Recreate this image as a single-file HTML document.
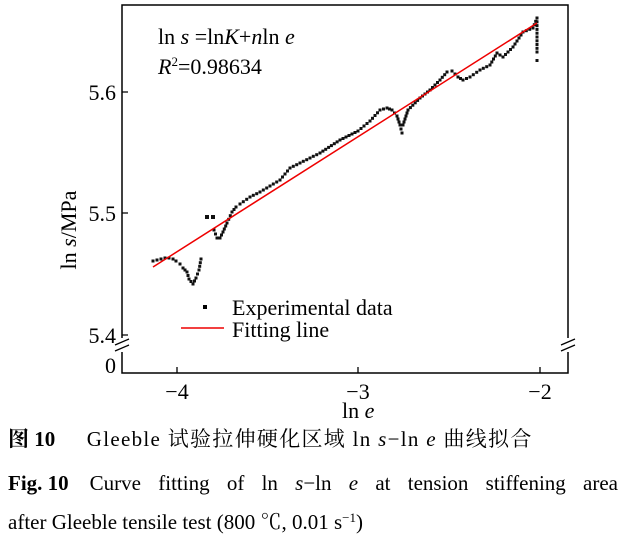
<!DOCTYPE html>
<html><head><meta charset="utf-8"><style>
body{margin:0;background:#fff;width:628px;height:545px;overflow:hidden;position:relative}
svg{display:block;position:absolute;left:0;top:0}
text{font-family:"Liberation Serif","Noto Serif CJK SC",serif;fill:#000}
.cap{position:absolute;left:8px;width:610px;font-family:"Liberation Serif","Noto Serif CJK SC",serif;font-size:21px;white-space:nowrap;line-height:24px}
.j{text-align:justify;text-align-last:justify;white-space:normal}
sup{font-size:13px;vertical-align:7px;line-height:0}
</style></head><body>
<svg id="s" width="628" height="545" viewBox="0 0 628 545">
<rect x="122" y="5" width="446" height="368" fill="none" stroke="#000" stroke-width="1.5"/>
<rect x="116" y="338" width="12" height="14" fill="#fff"/>
<rect x="562" y="338" width="12" height="14" fill="#fff"/>
<path d="M115,345 L129,339 M115,351 L129,345 M561,345 L575,339 M561,351 L575,345" stroke="#000" stroke-width="1.3"/>
<path d="M177,373 V367 M358,373 V367 M540,373 V367 M122,92 H128 M122,213 H128 M122,335 H128" stroke="#000" stroke-width="1.3"/>
<g font-size="22">
<text x="116" y="100" text-anchor="end">5.6</text>
<text x="116" y="221" text-anchor="end">5.5</text>
<text x="116" y="343" text-anchor="end">5.4</text>
<text x="116" y="373" text-anchor="end">0</text>
<text x="177" y="399" text-anchor="middle">−4</text>
<text x="358" y="399" text-anchor="middle">−3</text>
<text x="540" y="399" text-anchor="middle">−2</text>
<text x="342" y="418">ln <tspan font-style="italic">e</tspan></text>
<text transform="translate(76,230) rotate(-90)" text-anchor="middle">ln <tspan font-style="italic">s</tspan>/MPa</text>
<text x="158" y="44">ln <tspan font-style="italic">s</tspan> =ln<tspan font-style="italic">K</tspan>+<tspan font-style="italic">n</tspan>ln <tspan font-style="italic">e</tspan></text>
<text x="158" y="74"><tspan font-style="italic">R</tspan><tspan font-size="13" dy="-8">2</tspan><tspan dy="8">=0.98634</tspan></text>
<text x="232" y="315">Experimental data</text>
<text x="232" y="337">Fitting line</text>
</g>
<rect x="203" y="305" width="4" height="4" fill="#000"/>
<line x1="181" y1="328" x2="224" y2="328" stroke="#e00" stroke-width="1.5"/>
<g id="pts" fill="#111"></g>
<line x1="153" y1="267" x2="537" y2="23" stroke="#e00" stroke-width="1.5"/>
</svg>
<div class="cap" style="top:427px"><b>图 10</b>&nbsp;&nbsp;&nbsp;&nbsp;&nbsp;&nbsp;<span style="letter-spacing:1.3px">Gleeble 试验拉伸硬化区域 ln <i>s</i>−ln <i>e</i> 曲线拟合</span></div>
<div class="cap j" style="top:471px"><span style="display:inline-block"><b>Fig. 10</b>&nbsp;&nbsp;&nbsp;&nbsp;Curve</span> fitting of ln <i>s</i>−ln <i>e</i> at tension stiffening area</div>
<div class="cap" style="top:510px">after Gleeble tensile test (800 ℃, 0.01 s<sup>−1</sup>)</div>
<script>
var segs=[
[[153,261],[157,260],[161,259],[165,258],[169,258],[173,259],[176,261],[180,264],[183,268],[187,272],[189,279],[193,284],[196,278],[199,270],[201,259]],
[[207,217],[213,217]],
[[214,230],[217,238],[220,238],[223,232],[227,223],[232,212],[236,207],[240,204],[250,197],[260,192],[270,186],[280,180],[290,168],[300,163],[320,153],[340,140],[358,131],[370,121],[380,110],[387,108],[392,110],[397,116],[400,125],[402,133]],
[[403,125],[408,110],[420,98],[430,90],[440,80],[447,72],[452,71],[458,77],[463,80],[470,77],[480,70],[490,65],[497,53],[503,57],[513,47],[523,32],[533,28],[537,18]],
[[537,18],[537,37],[537,52]]
];
var g=document.getElementById('pts'),h='';
segs.forEach(function(s){
 if(s.length==2&&s[0][0]==207){s.forEach(function(p){h+='<rect x="'+(p[0]-2)+'" y="'+(p[1]-2)+'" width="4" height="4"/>';});return;}
 for(var i=0;i<s.length-1;i++){var a=s[i],b=s[i+1],d=Math.hypot(b[0]-a[0],b[1]-a[1]),n=Math.max(1,Math.round(d/3.5));
  for(var k=0;k<n;k++){var t=k/n,x=a[0]+(b[0]-a[0])*t,y=a[1]+(b[1]-a[1])*t;h+='<rect x="'+(x-1.5).toFixed(1)+'" y="'+(y-1.5).toFixed(1)+'" width="3" height="3"/>';}}
 var l=s[s.length-1];h+='<rect x="'+(l[0]-1.5)+'" y="'+(l[1]-1.5)+'" width="3" height="3"/>';
});
h+='<rect x="535.5" y="59" width="3" height="3"/>';
g.innerHTML=h;
</script>
</body></html>
